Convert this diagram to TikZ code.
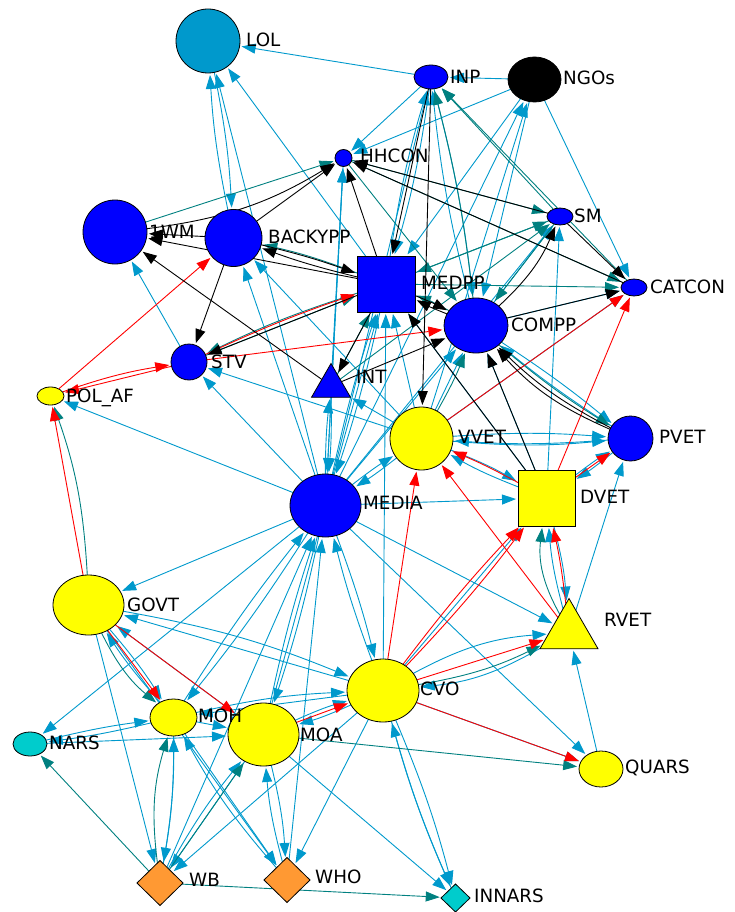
\documentclass[tikz,border=0pt]{standalone}
\usepackage{fontspec}
\newfontfamily\lblfont{DejaVu Sans}
\usetikzlibrary{shapes.geometric,arrows.meta}
\pgfdeclarelayer{edgelayer}
\pgfsetlayers{edgelayer,main}
\definecolor{eblue}{RGB}{0,153,204}
\definecolor{eteal}{RGB}{0,128,128}
\definecolor{nblue}{RGB}{0,0,255}
\definecolor{nyel}{RGB}{255,255,0}
\definecolor{norange}{RGB}{255,153,51}
\definecolor{ncyan}{RGB}{0,204,204}
\definecolor{lolblue}{RGB}{0,153,204}
\tikzset{
  nbase/.style={draw=black, line width=0.8pt, inner sep=0pt, outer sep=0pt},
  ncirc/.style={nbase, circle},
  nell/.style={nbase, ellipse},
  nsq/.style={nbase, rectangle},
  ntri/.style={nbase, regular polygon, regular polygon sides=3},
  ndia/.style={nbase, diamond},
  lab/.style={anchor=base west, inner sep=0pt, font=\lblfont\fontsize{18.3}{20}\selectfont},
  edgebase/.style={line width=0.9pt, shorten >=2pt, -{Triangle[length=14pt,width=10pt]}},
  EB/.style={edgebase, draw=eblue},
  ET/.style={edgebase, draw=eteal},
  EK/.style={edgebase, draw=black},
  ER/.style={edgebase, draw=red},
}
\begin{document}
\begin{tikzpicture}[x=1pt,y=-1pt]
\useasboundingbox (0,0) rectangle (734,912);
% ---------- nodes ----------
\node[ncirc, fill=lolblue, minimum size=64] (LOL) at (208,41) {};
\node[nell, fill=nblue, minimum width=34, minimum height=24] (INP) at (431,77) {};
\node[nell, fill=black, minimum width=53, minimum height=45] (NGOs) at (534.5,79.5) {};
\node[ncirc, fill=nblue, minimum size=17] (HHCON) at (343.5,158) {};
\node[ncirc, fill=nblue, minimum size=64] (WMone) at (115,232) {};
\node[ncirc, fill=nblue, minimum size=57] (BACKYPP) at (233.5,238) {};
\node[nell, fill=nblue, minimum width=26, minimum height=17] (SM) at (560,216.5) {};
\node[nsq, fill=nblue, minimum width=58, minimum height=56] (MEDPP) at (386,284) {};
\node[nell, fill=nblue, minimum width=26, minimum height=17] (CATCON) at (634,287.5) {};
\node[nell, fill=nblue, minimum width=64, minimum height=55] (COMPP) at (476,325.5) {};
\node[ncirc, fill=nblue, minimum size=36] (STV) at (189,362) {};
\node[nell, fill=nyel, minimum width=27, minimum height=18] (POLAF) at (50.5,396) {};
\node[ntri, fill=nblue, minimum size=45] (INT) at (331,386) {};
\node[ncirc, fill=nyel, minimum size=63] (VVET) at (421.5,438.5) {};
\node[ncirc, fill=nblue, minimum size=45] (PVET) at (630.5,438.5) {};
\node[nell, fill=nblue, minimum width=71, minimum height=63] (MEDIA) at (325.5,505.5) {};
\node[nsq, fill=nyel, minimum width=57, minimum height=56] (DVET) at (546.5,498) {};
\node[nell, fill=nyel, minimum width=71, minimum height=60] (GOVT) at (88.5,605) {};
\node[ntri, fill=nyel, minimum size=67] (RVET) at (569,632) {};
\node[nell, fill=nyel, minimum width=72, minimum height=63] (CVO) at (383,690.5) {};
\node[nell, fill=nyel, minimum width=47, minimum height=37] (MOH) at (173.5,717.5) {};
\node[nell, fill=nyel, minimum width=71, minimum height=63] (MOA) at (263.5,734.5) {};
\node[nell, fill=ncyan, minimum width=34, minimum height=24] (NARS) at (30,744) {};
\node[nell, fill=nyel, minimum width=44, minimum height=36] (QUARS) at (601,769) {};
\node[ndia, fill=norange, minimum width=46, minimum height=45] (WB) at (160,883) {};
\node[ndia, fill=norange, minimum width=46, minimum height=45] (WHO) at (287,880) {};
\node[ndia, fill=ncyan, minimum width=29, minimum height=28] (INNARS) at (455.5,898) {};
% ---------- labels ----------
\node[lab] (lLOL) at (246,47) {LOL};
\node[lab] (lINP) at (450,83.5) {INP};
\node[lab] (lNGOs) at (563,85) {NGOs};
\node[lab] (lHHCON) at (360,162.5) {HHCON};
\node[lab] (lWM) at (149,238.5) {1WM};
\node[lab] (lBACKYPP) at (268,243.5) {BACKYPP};
\node[lab] (lSM) at (574,222.5) {SM};
\node[lab] (lMEDPP) at (421,289.5) {MEDPP};
\node[lab] (lCATCON) at (650,293.5) {CATCON};
\node[lab] (lCOMPP) at (511,331.5) {COMPP};
\node[lab] (lSTV) at (211,368.5) {STV};
\node[lab] (lPOLAF) at (66,402.5) {POL\_AF};
\node[lab] (lINT) at (356,383.5) {INT};
\node[lab] (lVVET) at (458,443.5) {VVET};
\node[lab] (lPVET) at (659,443.5) {PVET};
\node[lab] (lMEDIA) at (363,509.5) {MEDIA};
\node[lab] (lDVET) at (580,503.5) {DVET};
\node[lab] (lGOVT) at (127,611.5) {GOVT};
\node[lab] (lRVET) at (604,626.5) {RVET};
\node[lab] (lCVO) at (420,695.5) {CVO};
\node[lab] (lMOH) at (198,722.5) {MOH};
\node[lab] (lMOA) at (300,741.5) {MOA};
\node[lab] (lNARS) at (49,749.5) {NARS};
\node[lab] (lQUARS) at (625,773.5) {QUARS};
\node[lab] (lWB) at (189,886.5) {WB};
\node[lab] (lWHO) at (315,883.5) {WHO};
\node[lab] (lINNARS) at (474,902.5) {INNARS};
% ---------- edges ----------
\begin{pgfonlayer}{edgelayer}
\foreach \a/\b/\c in {
 MEDIA/LOL/0, BACKYPP/LOL/4, LOL/BACKYPP/4, MEDPP/LOL/0, INP/LOL/0, NGOs/INP/0,
 INP/HHCON/0, NGOs/HHCON/0, MEDIA/HHCON/0, INT/HHCON/0, MEDIA/BACKYPP/0, VVET/BACKYPP/0,
 MEDIA/STV/0, VVET/STV/0, MEDIA/POLAF/0, MEDIA/INT/3, INT/MEDIA/3, VVET/INT/0,
 MEDIA/MEDPP/3, MEDPP/MEDIA/3, VVET/MEDPP/0, DVET/MEDPP/0, CVO/MEDPP/0, MOA/MEDPP/0,
 MEDPP/INP/4, INP/MEDPP/4, INP/COMPP/4, COMPP/INP/4, NGOs/MEDPP/0, NGOs/COMPP/0,
 NGOs/CATCON/0, MEDIA/NGOs/0, MEDIA/INP/0, VVET/NGOs/0, MEDIA/COMPP/0, VVET/COMPP/0,
 DVET/COMPP/0, PVET/COMPP/3, COMPP/PVET/3, MEDIA/SM/0, DVET/SM/0, COMPP/SM/0,
 VVET/CATCON/0, COMPP/CATCON/0, MEDIA/VVET/3, VVET/MEDIA/3, VVET/PVET/4, PVET/VVET/4,
 VVET/PVET/-5, DVET/PVET/3, PVET/DVET/3, RVET/PVET/0, DVET/VVET/4, VVET/DVET/4,
 MEDIA/DVET/0, CVO/DVET/0, RVET/DVET/5, DVET/RVET/5, MEDIA/RVET/0, CVO/RVET/12,
 RVET/CVO/12, QUARS/RVET/0, MEDIA/QUARS/0, CVO/QUARS/0, MEDIA/GOVT/0, CVO/GOVT/0,
 GOVT/CVO/6, MOH/GOVT/4, GOVT/MOH/4, MOA/GOVT/0, MEDIA/NARS/0, MOH/NARS/3,
 NARS/MOH/3, NARS/MOA/0, CVO/MEDIA/3, MEDIA/CVO/3, MOA/MEDIA/3, MEDIA/MOA/3,
 MOH/MEDIA/3, MEDIA/MOH/3, WB/MEDIA/0, WHO/MEDIA/0, CVO/INNARS/4, INNARS/CVO/4,
 CVO/INNARS/-4, MOA/INNARS/0, CVO/MOA/4, MOA/CVO/4, CVO/MOH/0, MOH/CVO/5,
 MOH/MOA/0, CVO/WB/0, CVO/WHO/0, MOH/WB/5, WB/MOH/-5, MOH/WHO/0, WHO/MOH/6,
 MOA/WB/0, WB/MOA/5, MOA/WHO/5, WHO/MOA/5, GOVT/WHO/0, GOVT/WB/0, HHCON/MEDIA/0,
 STV/WMone/0}
 \draw[EB] (\a) to[bend left=\c] (\b);
\foreach \a/\b/\c in {
 HHCON/SM/0, SM/MEDPP/0, SM/COMPP/0, SM/INP/0, COMPP/INP/-4, MEDPP/CATCON/0,
 HHCON/CATCON/0, WMone/HHCON/0, MEDPP/BACKYPP/-4, STV/MEDPP/0, MEDPP/STV/-4, COMPP/MEDPP/-4,
 INT/MEDPP/0, VVET/COMPP/-4, COMPP/PVET/-4, RVET/DVET/18, GOVT/POLAF/-8, GOVT/MOH/-12,
 WB/MOH/12, WB/NARS/0, WB/INNARS/0, MOA/QUARS/0, WB/MOA/0, CVO/RVET/-8,
 INT/SM/0, HHCON/COMPP/0, MEDPP/SM/0, CATCON/INP/0}
 \draw[ET] (\a) to[bend left=\c] (\b);
\foreach \a/\b/\c in {
 POLAF/BACKYPP/0, STV/POLAF/0, POLAF/STV/5, STV/MEDPP/3, STV/COMPP/0, VVET/CATCON/0,
 DVET/CATCON/0, GOVT/POLAF/0, GOVT/MOH/0, GOVT/MOA/0, MOA/CVO/0, CVO/VVET/0,
 CVO/DVET/3, CVO/DVET/-3, CVO/RVET/0, CVO/QUARS/0, RVET/VVET/0, DVET/VVET/-3,
 RVET/DVET/-3, DVET/PVET/0}
 \draw[ER] (\a) to[bend left=\c] (\b);
\foreach \a/\b/\c in {
 WMone/HHCON/-12, BACKYPP/HHCON/0, MEDPP/HHCON/0, SM/HHCON/0, CATCON/HHCON/0, INP/MEDPP/0,
 SM/CATCON/0, COMPP/SM/-12, COMPP/CATCON/0, BACKYPP/MEDPP/3, MEDPP/BACKYPP/3, MEDPP/WMone/0,
 BACKYPP/WMone/0, BACKYPP/STV/0, MEDPP/STV/0, MEDPP/INT/0, INT/WMone/0, COMPP/MEDPP/3,
 MEDPP/COMPP/3, INT/COMPP/0, PVET/COMPP/8, PVET/COMPP/12, DVET/COMPP/0, DVET/MEDPP/0,
 INP/VVET/0}
 \draw[EK] (\a) to[bend left=\c] (\b);
\end{pgfonlayer}
\end{tikzpicture}
\end{document}
